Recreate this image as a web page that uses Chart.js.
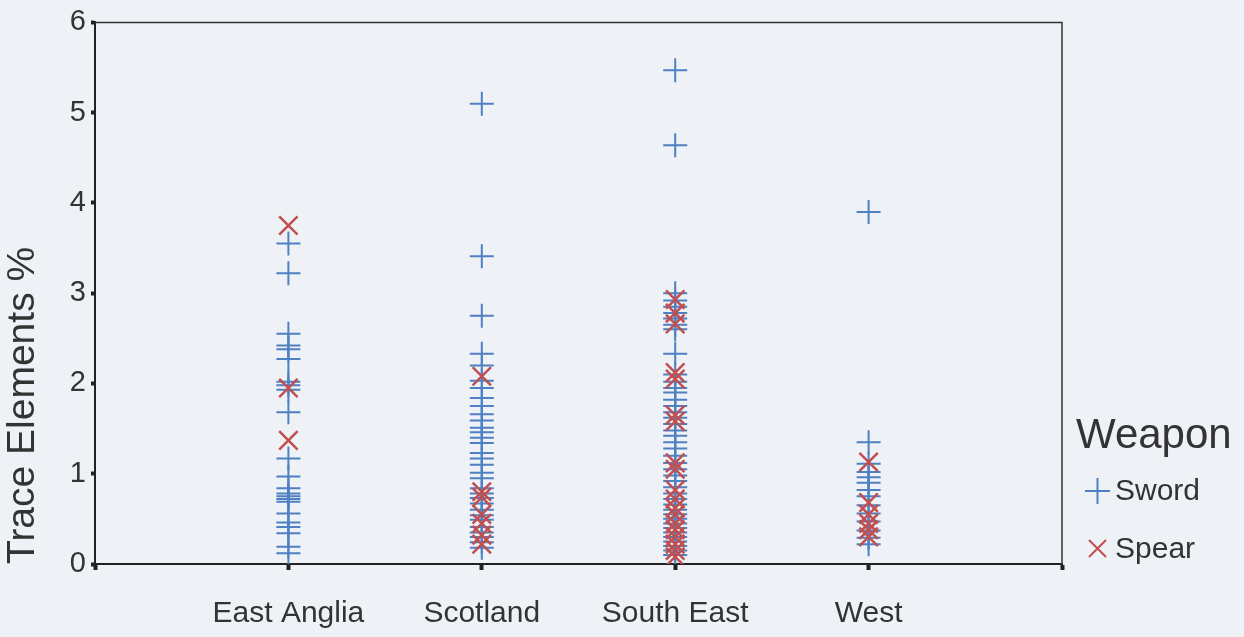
<!DOCTYPE html>
<html>
<head>
<meta charset="utf-8">
<script src="https://cdn.jsdelivr.net/npm/chart.js@4/dist/chart.umd.min.js"></script>
<style>
  html, body { margin: 0; padding: 0; background: #eef1f6; }
  #wrap { width: 1244px; height: 637px; }
</style>
</head>
<body>
<div id="wrap"><canvas id="scatterChart" width="1244" height="637"></canvas></div>
<script>
// categories on the x axis
var categories = ['East Anglia', 'Scotland', 'South East', 'West'];
var yTicks = [0, 1, 2, 3, 4, 5, 6];

// Sword values (trace elements %) per region
var swordEastAnglia = [3.55, 3.22, 2.55, 2.42, 2.38, 2.27, 2.02, 1.98, 1.93, 1.68, 1.17, 0.97, 0.84, 0.78, 0.75, 0.72, 0.69, 0.56, 0.46, 0.41, 0.34, 0.19, 0.12];
var swordScotland = [5.1, 3.41, 2.75, 2.33, 2.2, 2.03, 1.95, 1.84, 1.75, 1.66, 1.59, 1.51, 1.46, 1.40, 1.34, 1.23, 1.17, 1.10, 1.01, 0.95, 0.84, 0.78, 0.73, 0.67, 0.6, 0.54, 0.49, 0.41, 0.35, 0.3, 0.24, 0.18];
var swordSouthEast = [5.47, 4.64, 3.0, 2.92, 2.85, 2.78, 2.72, 2.65, 2.6, 2.33, 2.1, 2.02, 1.95, 1.9, 1.82, 1.75, 1.68, 1.62, 1.55, 1.48, 1.42, 1.35, 1.28, 1.2, 1.12, 1.05, 0.98, 0.92, 0.85, 0.78, 0.72, 0.66, 0.6, 0.55, 0.5, 0.45, 0.4, 0.35, 0.3, 0.25, 0.2, 0.15, 0.1];
var swordWest = [3.9, 1.35, 1.11, 1.02, 0.96, 0.9, 0.82, 0.75, 0.65, 0.56, 0.47, 0.37, 0.29, 0.22];

// Spear values per region
var spearEastAnglia = [3.75, 1.95, 1.37];
var spearScotland = [2.08, 0.8, 0.74, 0.55, 0.45, 0.32, 0.22];
var spearSouthEast = [2.93, 2.78, 2.66, 2.12, 2.05, 1.65, 1.58, 1.12, 1.05, 0.82, 0.72, 0.62, 0.55, 0.45, 0.38, 0.3, 0.22, 0.15, 0.08];
var spearWest = [1.13, 0.68, 0.55, 0.45, 0.38, 0.3];

var swordColor = '#4f80c2';
var spearColor = '#c24f4f';
var fontFamily = "'Liberation Sans', Arial, sans-serif";

function toPoints(groups) {
    var pts = [];
    groups.forEach(function (vals, i) {
        vals.forEach(function (v) { pts.push({ x: i + 1, y: v }); });
    });
    return pts;
}

var bgPlugin = {
    id: 'bg',
    beforeDraw: function (chart) {
        var c = chart.ctx;
        c.save();
        c.fillStyle = '#eef1f6';
        c.fillRect(0, 0, chart.width, chart.height);
        c.restore();
    },
    afterDatasetsDraw: function (chart) {
        var a = chart.chartArea, c = chart.ctx;
        c.save();
        c.strokeStyle = '#333';
        c.lineWidth = 1.5;
        c.beginPath();
        c.moveTo(a.left, a.top);
        c.lineTo(a.right, a.top);
        c.lineTo(a.right, a.bottom);
        c.stroke();
        c.restore();
    }
};

var legendPlugin = {
    id: 'weaponLegend',
    afterDraw: function (chart) {
        var c = chart.ctx;
        c.save();
        c.fillStyle = '#333';
        c.textBaseline = 'alphabetic';
        c.font = '42px ' + fontFamily;
        c.fillText('Weapon', 1076, 448);
        c.font = '30px ' + fontFamily;
        c.textBaseline = 'middle';
        // sword entry
        c.strokeStyle = swordColor;
        c.lineWidth = 2;
        c.beginPath();
        c.moveTo(1085, 491); c.lineTo(1110, 491);
        c.moveTo(1097.5, 478); c.lineTo(1097.5, 504);
        c.stroke();
        c.fillText('Sword', 1115, 492);
        // spear entry
        c.strokeStyle = spearColor;
        c.beginPath();
        c.moveTo(1089, 540); c.lineTo(1106, 557);
        c.moveTo(1106, 540); c.lineTo(1089, 557);
        c.stroke();
        c.fillText('Spear', 1115, 550);
        c.restore();
    }
};

var ctx = document.getElementById('scatterChart').getContext('2d');
var myChart = new Chart(ctx, {
    type: 'scatter',
    data: {
        datasets: [{
            label: 'Sword',
            data: toPoints([swordEastAnglia, swordScotland, swordSouthEast, swordWest]),
            pointStyle: 'cross',
            pointRadius: 12,
            borderColor: swordColor,
            backgroundColor: swordColor,
            borderWidth: 2,
            order: 1
        }, {
            label: 'Spear',
            data: toPoints([spearEastAnglia, spearScotland, spearSouthEast, spearWest]),
            pointStyle: 'crossRot',
            pointRadius: 13,
            borderColor: spearColor,
            backgroundColor: spearColor,
            borderWidth: 2.5,
            order: 0
        }]
    },
    options: {
        responsive: false,
        animation: false,
        events: [],
        layout: { padding: { top: 20, right: 182, left: 0, bottom: 0 } },
        plugins: {
            legend: { display: false },
            tooltip: { enabled: false }
        },
        scales: {
            x: {
                type: 'linear',
                min: 0,
                max: categories.length + 1,
                afterFit: function (s) { s.height = 73; },
                afterBuildTicks: function (s) {
                    s.ticks = [0, 1, 2, 3, 4, 5].map(function (v) { return { value: v }; });
                },
                ticks: {
                    padding: 26,
                    color: '#333',
                    font: { family: fontFamily, size: 30 },
                    callback: function (v) { return categories[v - 1] || ''; }
                },
                grid: { drawOnChartArea: false, tickLength: 6, tickWidth: 4, color: '#222' },
                border: { color: '#222', width: 2 }
            },
            y: {
                min: 0,
                max: 6,
                afterFit: function (s) { s.width = 95; },
                afterBuildTicks: function (s) {
                    s.ticks = yTicks.map(function (v) { return { value: v }; });
                },
                ticks: {
                    padding: 5,
                    color: '#333',
                    font: { family: fontFamily, size: 29 }
                },
                title: {
                    display: true,
                    text: 'Trace Elements %',
                    align: 'start',
                    color: '#333',
                    font: { family: fontFamily, size: 39 },
                    padding: { top: 0, bottom: 0 }
                },
                grid: { drawOnChartArea: false, tickLength: 4, tickWidth: 4, color: '#222' },
                border: { color: '#222', width: 2 }
            }
        }
    },
    plugins: [bgPlugin, legendPlugin]
});
</script>
</body>
</html>
